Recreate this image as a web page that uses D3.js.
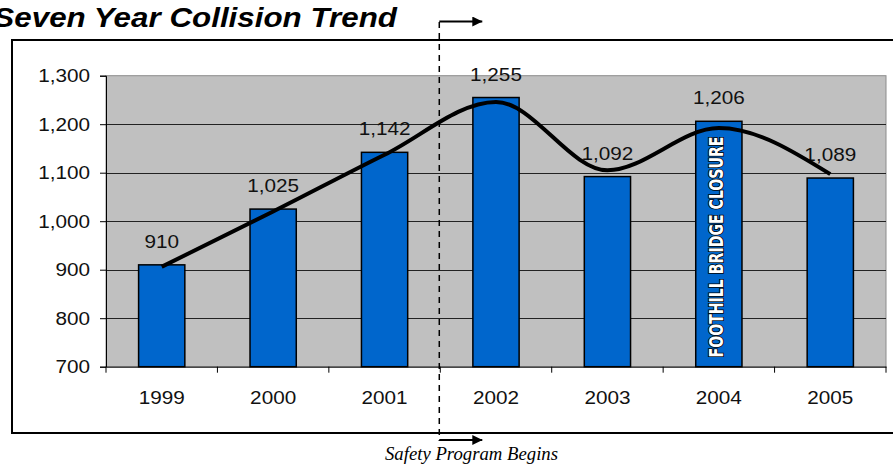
<!DOCTYPE html>
<html>
<head>
<meta charset="utf-8">
<script src="https://cdn.jsdelivr.net/npm/d3@7"></script>
<style>
  html, body { margin: 0; padding: 0; background: #fff; }
  svg { display: block; }
</style>
</head>
<body>
<svg id="chart" width="893" height="466"></svg>
<script>
// Annual collision counts
const years = ["1999", "2000", "2001", "2002", "2003", "2004", "2005"];
const collisions = [910, 1025, 1142, 1255, 1092, 1206, 1089];
// Smoothed trend line values at each year
const trend = [906, 1020, 1137, 1246, 1105, 1192, 1097];
const yTicks = [700, 800, 900, 1000, 1100, 1200, 1300];
const closureYear = "2004";
const closureLabel = "FOOTHILL BRIDGE CLOSURE";
const programStart = 3; // index of the first year under the safety program

const svg = d3.select("#chart");
const plot = { left: 106, right: 886, top: 75.7, bottom: 366.7 };
const sansFont = "'Liberation Sans', Arial, sans-serif";
const labelSize = 18.5;
const wide = 1.12; // horizontal stretch applied to the chart lettering

// Re-anchor a text at its own x/y and widen it horizontally
function stretch(sel, sx) {
  sel.each(function () {
    const t = d3.select(this);
    const tx = +t.attr("x") || 0, ty = +t.attr("y") || 0;
    t.attr("transform", `translate(${tx},${ty}) scale(${sx},1)`).attr("x", 0).attr("y", 0);
  });
}

const x = d3.scaleBand().domain(years).range([plot.left, plot.right]).paddingInner(0.585).paddingOuter(0.2925);
const xs = d3.scaleBand().domain(years).range([plot.left, plot.right]);
const y = d3.scaleLinear().domain([700, 1300]).range([plot.bottom, plot.top]);

// Title
svg.append("text")
  .attr("x", 397).attr("y", 26.5)
  .attr("text-anchor", "end")
  .attr("font-family", sansFont)
  .attr("font-weight", "bold").attr("font-style", "italic")
  .attr("font-size", 28)
  .text("Seven Year Collision Trend")
  .call(stretch, wide);

// Chart frame
svg.append("rect")
  .attr("x", 12).attr("y", 40).attr("width", 900).attr("height", 393)
  .attr("fill", "#fff").attr("stroke", "#000").attr("stroke-width", 2);

// Plot background
svg.append("rect")
  .attr("x", plot.left).attr("y", plot.top)
  .attr("width", plot.right - plot.left).attr("height", plot.bottom - plot.top)
  .attr("fill", "#c0c0c0").attr("stroke", "#8c8c8c").attr("stroke-width", 1);

// Gridlines
svg.append("g").selectAll("line")
  .data(yTicks.filter(d => d > 700 && d < 1300))
  .join("line")
  .attr("x1", plot.left).attr("x2", plot.right)
  .attr("y1", d => Math.round(y(d)) + 0.5).attr("y2", d => Math.round(y(d)) + 0.5)
  .attr("stroke", "#222").attr("stroke-width", 1);

// Bars
svg.append("g").selectAll("rect")
  .data(years)
  .join("rect")
  .attr("x", d => x(d))
  .attr("y", (d, i) => y(collisions[i]))
  .attr("width", x.bandwidth())
  .attr("height", (d, i) => y(700) - y(collisions[i]))
  .attr("fill", "#0066cc").attr("stroke", "#000").attr("stroke-width", 1.5);

// Value labels
svg.append("g").selectAll("text")
  .data(years)
  .join("text")
  .attr("x", d => x(d) + x.bandwidth() / 2)
  .attr("y", (d, i) => y(collisions[i]) - 17)
  .attr("text-anchor", "middle")
  .attr("font-family", sansFont)
  .attr("font-size", labelSize)
  .attr("fill", "#111")
  .text((d, i) => d3.format(",")(collisions[i]))
  .call(stretch, wide);

// Closure annotation inside the bar
const ci = years.indexOf(closureYear);
const cx = x(closureYear) + x.bandwidth() / 2;
const cy = (y(collisions[ci]) + y(700)) / 2 + 3;
svg.append("text")
  .attr("transform", `translate(${cx + 4},${cy}) rotate(-90)`)
  .attr("text-anchor", "middle")
  .attr("font-family", "'Liberation Sans Narrow', 'DejaVu Sans Condensed', 'Arial Narrow', sans-serif")
  .attr("font-weight", "bold")
  .attr("font-size", 20)
  .attr("textLength", 221).attr("lengthAdjust", "spacingAndGlyphs")
  .attr("fill", "#fff").attr("stroke", "#000").attr("stroke-width", 1.8)
  .attr("paint-order", "stroke")
  .text(closureLabel);

// Trend line
const line = d3.line()
  .x((d, i) => xs(years[i]) + xs.bandwidth() / 2)
  .y(d => y(d))
  .curve(d3.curveMonotoneX);
svg.append("path")
  .datum(trend)
  .attr("d", line)
  .attr("fill", "none").attr("stroke", "#000").attr("stroke-width", 4);

// Y axis
const yAxis = svg.append("g")
  .attr("transform", `translate(${plot.left},0)`)
  .call(d3.axisLeft(y).tickValues(yTicks).tickSize(6).tickPadding(10).tickFormat(d3.format(",")));
yAxis.select(".domain").attr("stroke", "#000").attr("stroke-width", 1);
yAxis.selectAll(".tick line").attr("stroke", "#000");
yAxis.selectAll("text")
  .attr("font-family", sansFont)
  .attr("font-size", labelSize).attr("fill", "#111")
  .call(stretch, wide);

// X axis
const xAxis = svg.append("g")
  .attr("transform", `translate(0,${plot.bottom})`)
  .call(d3.axisBottom(xs).tickSize(0).tickPadding(24));
xAxis.select(".domain").attr("stroke", "#000").attr("stroke-width", 1);
xAxis.selectAll("text")
  .attr("font-family", sansFont)
  .attr("font-size", labelSize).attr("fill", "#111")
  .call(stretch, wide);
// Category separator ticks
xAxis.append("g").selectAll("line")
  .data(d3.range(years.length + 1))
  .join("line")
  .attr("x1", i => plot.left + i * xs.step())
  .attr("x2", i => plot.left + i * xs.step())
  .attr("y1", 0).attr("y2", 6)
  .attr("stroke", "#000");

// Program start marker
const px = xs(years[programStart]) - 1;
svg.append("defs").append("marker")
  .attr("id", "arrow").attr("viewBox", "0 0 10 10")
  .attr("refX", 10).attr("refY", 5)
  .attr("markerWidth", 5).attr("markerHeight", 5)
  .attr("markerUnits", "strokeWidth")
  .attr("orient", "auto")
  .append("path").attr("d", "M0,0L10,5L0,10Z").attr("fill", "#000");

svg.append("line")
  .attr("x1", px).attr("x2", px).attr("y1", 22).attr("y2", 441)
  .attr("stroke", "#000").attr("stroke-width", 1.5).attr("stroke-dasharray", "6,5");
[21.5, 440].forEach(ay => {
  svg.append("line")
    .attr("x1", px).attr("x2", px + 43).attr("y1", ay).attr("y2", ay)
    .attr("stroke", "#000").attr("stroke-width", 2)
    .attr("marker-end", "url(#arrow)");
});
svg.append("text")
  .attr("x", 471.5).attr("y", 459.5)
  .attr("text-anchor", "middle")
  .attr("font-family", "'Liberation Serif', 'Times New Roman', serif")
  .attr("font-style", "italic")
  .attr("font-size", 19)
  .attr("textLength", 173).attr("lengthAdjust", "spacingAndGlyphs")
  .text("Safety Program Begins");
</script>
</body>
</html>
